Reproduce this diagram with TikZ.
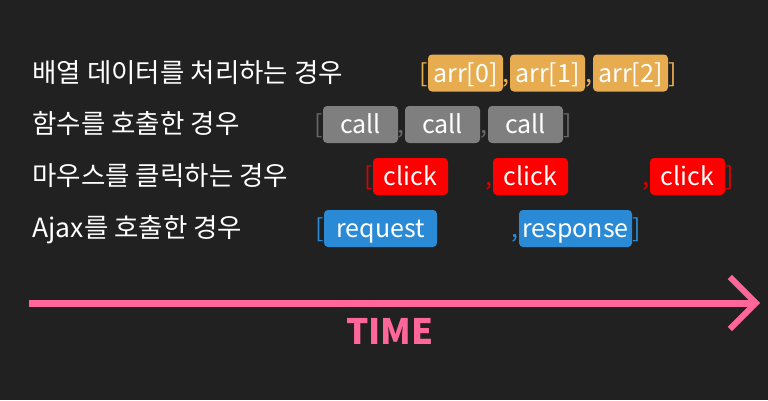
\documentclass[tikz,border=0pt]{standalone}
\usepackage{fontspec}
\setmainfont{Noto Sans CJK KR}
\usetikzlibrary{positioning,arrows.meta}
\definecolor{bgdark}{HTML}{212121}
\definecolor{arrorange}{HTML}{E8AC50}
\definecolor{callgray}{HTML}{7F7F7F}
\definecolor{brgray}{HTML}{666666}
\definecolor{clickred}{HTML}{FF0000}
\definecolor{brred}{HTML}{DD0000}
\definecolor{ajaxblue}{HTML}{2A8AD5}
\definecolor{timepink}{HTML}{FF6699}
\begin{document}
\begin{tikzpicture}[x=1pt,y=-1pt,line join=round]
	\tikzset{label style/.style={anchor=base west,text=white,font=\fontsize{26.5}{26.5}\selectfont},
		box/.style={fill=#1,text=white,rounded corners=4pt,minimum width=75pt,minimum height=37pt,
			inner sep=0pt,text height=18pt,text depth=0pt,font=\fontsize{25}{25}\selectfont},
		sep/.style={text=#1,inner sep=0pt,text height=18pt,text depth=0pt,font=\fontsize{25}{25}\selectfont}}
	\fill[bgdark] (0,0) rectangle (768,400);
	\useasboundingbox (0,0) rectangle (768,400);
	% labels
	\node[label style] (l1) at (29,82) {배열 데이터를 처리하는 경우};
	\node[label style] (l2) at (29,133.5) {함수를 호출한 경우};
	\node[label style] (l3) at (29,185.5) {마우스를 클릭하는 경우};
	\node[label style] (l4) at (29,237.5) {Ajax를 호출한 경우};
	% array
	\node[box=arrorange] (arr0) at (465.5,73) {arr[0]};
	\node[box=arrorange] (arr1) at (547.5,73) {arr[1]};
	\node[box=arrorange] (arr2) at (630.5,73) {arr[2]};
	\node[sep=arrorange,left=0pt of arr0] (arrL) {[};
	\node[sep=arrorange,left=0pt of arr1] (arrC1) {,};
	\node[sep=arrorange,left=0pt of arr2] (arrC2) {,};
	\node[sep=arrorange,right=0pt of arr2] (arrR) {]};
	% function call
	\node[box=callgray] (call0) at (360.5,124.5) {call};
	\node[box=callgray] (call1) at (442.5,124.5) {call};
	\node[box=callgray] (call2) at (525.5,124.5) {call};
	\node[sep=brgray,left=0pt of call0] (callL) {[};
	\node[sep=brgray,left=0pt of call1] (callC1) {,};
	\node[sep=brgray,left=0pt of call2] (callC2) {,};
	\node[sep=brgray,right=0pt of call2] (callR) {]};
	% mouse click
	\node[box=clickred] (click0) at (410.5,176.5) {click};
	\node[box=clickred] (click1) at (530.5,176.5) {click};
	\node[box=clickred] (click2) at (687.5,176.5) {click};
	\node[sep=brred,left=0pt of click0] (clickL) {[};
	\node[sep=brred,left=0pt of click1] (clickC1) {,};
	\node[sep=brred,left=0pt of click2] (clickC2) {,};
	\node[sep=brred,right=0pt of click2] (clickR) {]};
	% ajax
	\node[box=ajaxblue,minimum width=113pt] (req) at (380.5,228.5) {request};
	\node[box=ajaxblue,minimum width=113pt] (res) at (575.5,228.5) {response};
	\node[sep=ajaxblue,left=0pt of req] (ajaxL) {[};
	\node[sep=ajaxblue,left=0pt of res] (ajaxC) {,};
	\node[sep=ajaxblue,right=0pt of res] (ajaxR) {]};
	% time axis
	\coordinate (tstart) at (29,303);
	\coordinate (tend) at (760,303);
	\draw[timepink,line width=7pt,-{Straight Barb[length=26pt,width=52pt,line width=6pt]}] (tstart) -- (tend);
	\node[anchor=base,text=timepink,font=\bfseries\fontsize{35}{35}\selectfont] (time) at (390,344) {TIME};
\end{tikzpicture}
\end{document}
